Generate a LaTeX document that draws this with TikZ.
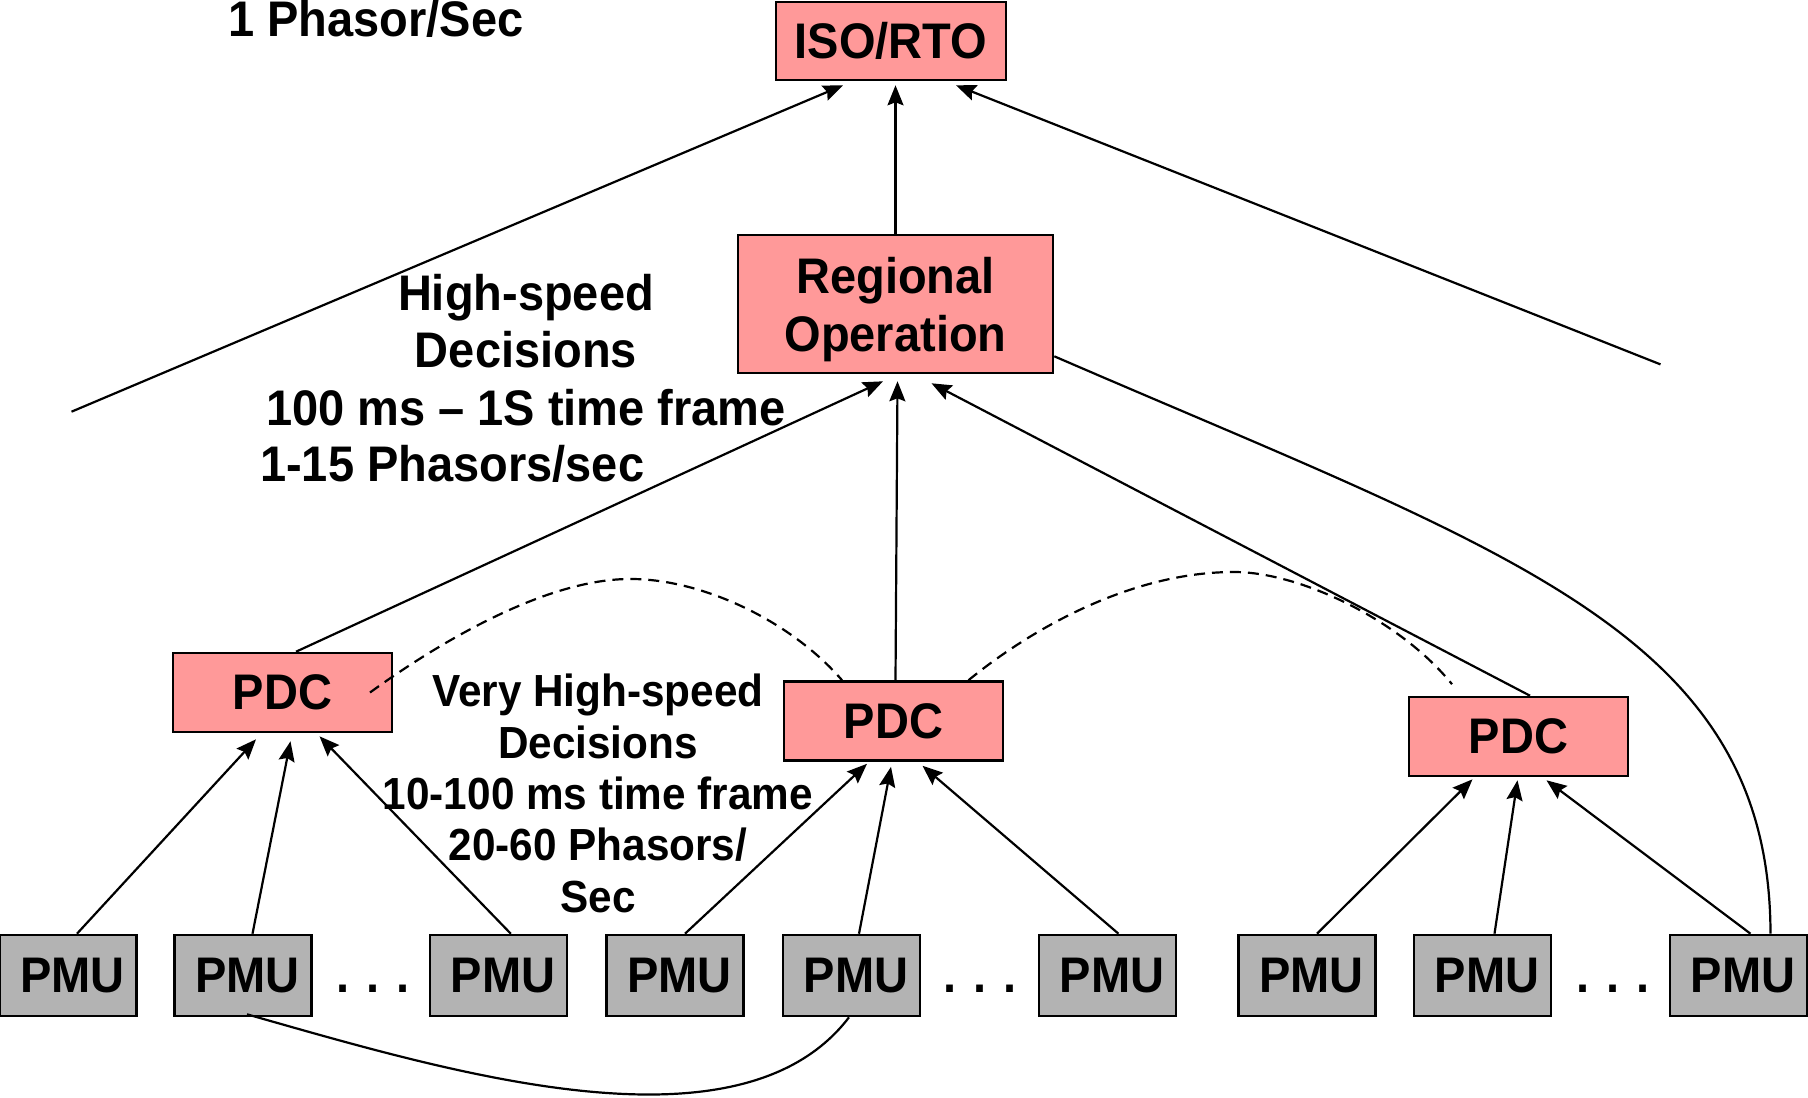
\documentclass[tikz,border=0pt]{standalone}
\usepackage{fontspec}
\setmainfont{Liberation Sans}[FakeStretch=0.94]
\usetikzlibrary{arrows.meta,calc}
\definecolor{pdcpink}{RGB}{255,153,153}
\definecolor{pmugray}{RGB}{179,179,179}
\begin{document}
\begin{tikzpicture}[x=1pt,y=-1pt,
  box/.style={draw=black, line width=2.6pt, inner sep=0pt, font=\bfseries\fontsize{50}{57.5}\selectfont},
  pinkbox/.style={box, fill=pdcpink},
  pmubox/.style={box, fill=pmugray, minimum width=137pt, minimum height=81pt, execute at begin node={\hspace*{9pt}}},
  pdcbox/.style={pinkbox, minimum width=219pt, minimum height=79pt},
  lbl/.style={inner sep=0pt, anchor=base, font=\bfseries\fontsize{50}{57.5}\selectfont},
  slbl/.style={inner sep=0pt, anchor=base, font=\bfseries\fontsize{45}{51}\selectfont},
  conn/.style={line width=2.2pt},
  arr/.style={conn, -{Stealth[length=20pt,width=16pt,inset=3pt]}},
  dsh/.style={conn, dash pattern=on 11pt off 7pt},
]
\useasboundingbox (0,0) rectangle (1808,1098);

% boxes
\node[pinkbox, minimum width=230pt, minimum height=78pt] (iso) at (891,41) {ISO/RTO};
\node[pinkbox, minimum width=315pt, minimum height=138pt, align=center,
      font=\bfseries\fontsize{50}{58}\selectfont] (reg) at (895.5,304) {\rule{0pt}{47pt}Regional\\Operation};
\node[pdcbox] (pdc1) at (282.5,692.5) {PDC};
\node[pdcbox] (pdc2) at (893.5,721) {PDC};
\node[pdcbox] (pdc3) at (1518.5,736.5) {PDC};

\node[pmubox] (pmu1) at (68,975.5) {PMU};
\node[pmubox] (pmu2) at (243,975.5) {PMU};
\node[pmubox] (pmu3) at (498.5,975.5) {PMU};
\node[pmubox] (pmu4) at (675,975.5) {PMU};
\node[pmubox] (pmu5) at (851.5,975.5) {PMU};
\node[pmubox] (pmu6) at (1107.5,975.5) {PMU};
\node[pmubox] (pmu7) at (1307,975.5) {PMU};
\node[pmubox] (pmu8) at (1482.5,975.5) {PMU};
\node[pmubox] (pmu9) at (1738.5,975.5) {PMU};

\node[lbl] (d1) at (373,992) {. . .};
\node[lbl] (d2) at (980,992) {. . .};
\node[lbl] (d3) at (1613,992) {. . .};

% labels
\node[lbl] (t0) at (376,36) {1 Phasor/Sec};
\node[lbl] (h1) at (526,310.7) {High-speed};
\node[lbl] (h2) at (526,367.3) {Decisions};
\node[lbl] (h3) at (526,425) {100 ms – 1S time frame};
\node[lbl, anchor=base west] (h4) at (260,481.7) {1-15 Phasors/sec};

\node[slbl] (v1) at (598,706.7) {Very High-speed};
\node[slbl] (v2) at (598,758) {Decisions};
\node[slbl] (v3) at (598,809.3) {10-100 ms time frame};
\node[slbl] (v4) at (598,860.6) {20-60 Phasors/};
\node[slbl] (v5) at (598,912) {Sec};

% free ends
\coordinate (fl) at (71.5,411.7);
\coordinate (fr) at (1660.5,364.4);

% top level
\draw[arr] (fl) -- ([xshift=-48pt,yshift=-4pt]iso.south);
\draw[arr] (reg.north) -- ($(reg.north |- iso.south)+(0,4)$);
\draw[arr] (fr) -- ([xshift=65pt,yshift=-4pt]iso.south);

% PDC to regional
\draw[arr] ([xshift=13.5pt]pdc1.north) -- ([xshift=-12.5pt,yshift=-7pt]reg.south);
\draw[arr] ([xshift=2pt]pdc2.north) -- ([xshift=2pt,yshift=-7pt]reg.south);
\draw[arr] ([xshift=11.5pt]pdc3.north) -- ([xshift=36pt,yshift=-9pt]reg.south);

% regional to far PMU
\draw[conn] ([yshift=18pt]reg.south east) .. controls (1511,554) and (1770,633) .. ([xshift=32pt]pmu9.north);

% dashed PDC links
\draw[dsh] ([xshift=87.5pt]pdc1.center) .. controls (430,649) and (540,580) .. (628,579)
  .. controls (700,578) and (790,620) .. ([xshift=-51.5pt]pdc2.north);
\draw[dsh] ([xshift=75pt]pdc2.north) .. controls (1030,630) and (1130,572) .. (1234,572)
  .. controls (1300,572) and (1400,620) .. ([xshift=-66.5pt,yshift=11.5pt]pdc3.north);

% PMU to PDC
\draw[arr] ([xshift=9pt]pmu1.north) -- ([xshift=-26.5pt,yshift=-6pt]pdc1.south);
\draw[arr] ([xshift=9.5pt]pmu2.north) -- ([xshift=8pt,yshift=-8pt]pdc1.south);
\draw[arr] ([xshift=12.3pt]pmu3.north) -- ([xshift=37pt,yshift=-3pt]pdc1.south);
\draw[arr] ([xshift=10pt]pmu4.north) -- ([xshift=-26.5pt,yshift=-2pt]pdc2.south);
\draw[arr] ([xshift=7.5pt]pmu5.north) -- ([xshift=-2.5pt,yshift=-5pt]pdc2.south);
\draw[arr] ([xshift=11pt]pmu6.north) -- ([xshift=29pt,yshift=-4pt]pdc2.south);
\draw[arr] ([xshift=10pt]pmu7.north) -- ([xshift=-46pt,yshift=-2pt]pdc3.south);
\draw[arr] ([xshift=12pt]pmu8.north) -- ([xshift=-1pt,yshift=-3pt]pdc3.south);
\draw[arr] ([xshift=12pt]pmu9.north) -- ([xshift=28pt,yshift=-3pt]pdc3.south);

% PMU to PMU
\draw[conn] ([xshift=4pt,yshift=3pt]pmu2.south) .. controls (450,1072) and (740,1160) .. ([xshift=-2.5pt]pmu5.south);
\end{tikzpicture}
\end{document}
